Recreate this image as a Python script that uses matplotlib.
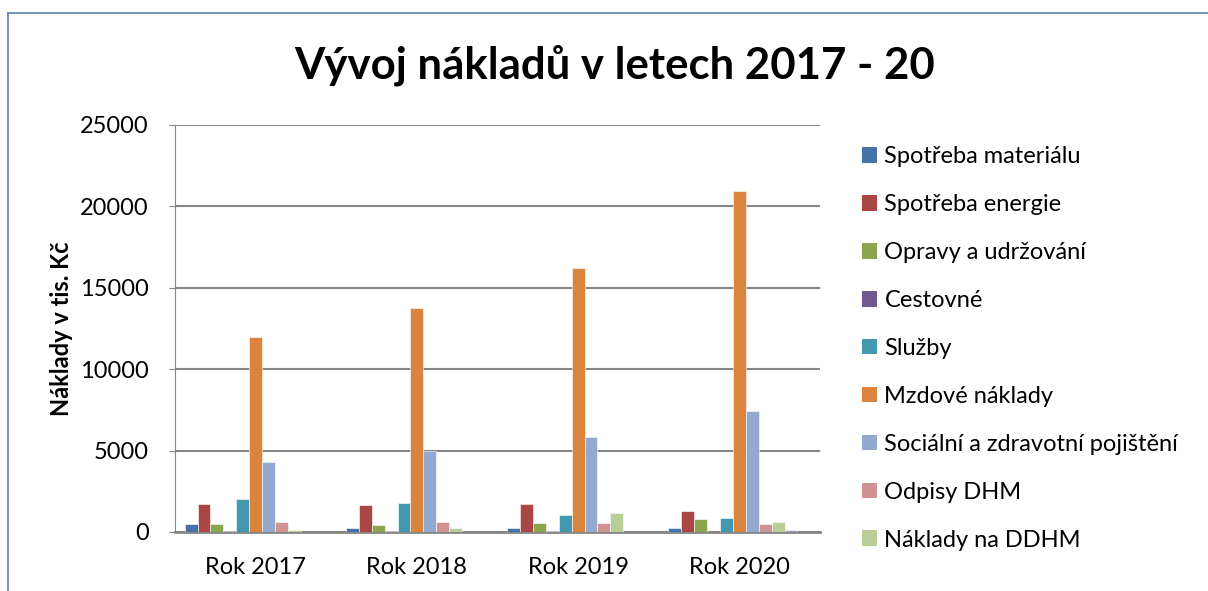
import matplotlib
matplotlib.use('Agg')

import matplotlib.pyplot as plt
import numpy as np
from matplotlib.lines import Line2D
from matplotlib.patches import Patch

plt.rcParams['font.family'] = ['Lato', 'DejaVu Sans']

# categories and series (tis. Kč)
roky = ["Rok 2017", "Rok 2018", "Rok 2019", "Rok 2020"]
spotreba_materialu = [480, 250, 250, 270]
spotreba_energie = [1750, 1680, 1740, 1320]
opravy_udrzovani = [520, 400, 560, 780]
cestovne = [60, 50, 50, 30]
sluzby = [2000, 1760, 1030, 830]
mzdove_naklady = [12000, 13770, 16220, 20920]
socialni_pojisteni = [4330, 5000, 5840, 7460]
odpisy_dhm = [640, 620, 540, 520]
naklady_ddhm = [140, 270, 1180, 620]
ostatni_1 = [0, 0, 0, 120]
ostatni_2 = [0, 0, 20, 0]

series = [spotreba_materialu, spotreba_energie, opravy_udrzovani, cestovne, sluzby,
          mzdove_naklady, socialni_pojisteni, odpisy_dhm, naklady_ddhm, ostatni_1, ostatni_2]
labels = ["Spotřeba materiálu", "Spotřeba energie", "Opravy a udržování", "Cestovné",
          "Služby", "Mzdové náklady", "Sociální a zdravotní pojištění", "Odpisy DHM",
          "Náklady na DDHM", None, None]
colors = ["#4572A7", "#AA4643", "#89A54E", "#71588F", "#4198AF", "#DB843D",
          "#93A9CF", "#D19392", "#B9CD96", "#A99BBD", "#DCE6F0"]

fig = plt.figure(figsize=(12.08, 5.91), dpi=100)
ax = fig.add_axes([175/1208, 1-532/591, 645/1208, 407/591])

n = len(series)
w = 1.0 / (n + 1.5)
x = np.arange(len(roky))
for i, vals in enumerate(series):
    off = (i - (n - 1) / 2) * w
    ax.bar(x + off, vals, w, color=colors[i], edgecolor='white', linewidth=0.4, zorder=3)

ax.set_xlim(-0.5, len(roky) - 0.5)
ax.set_ylim(0, 25000)
ax.set_yticks(range(0, 25001, 5000))
ax.set_xticks(x)
ax.set_xticklabels(roky, fontsize=17)
ax.tick_params(axis='x', length=0, pad=18)
ax.tick_params(axis='y', labelsize=17, length=4, color='#868686', pad=15)
ax.grid(axis='y', color='#868686', linewidth=1.5, zorder=0)
for s in ['top', 'right']:
    ax.spines[s].set_visible(False)
ax.spines['left'].set_color('#868686')
ax.spines['bottom'].set_color('#868686')
ax.spines['bottom'].set_linewidth(2)
ax.set_ylabel("Náklady v tis. Kč", fontsize=17, fontweight='bold', labelpad=5)

fig.text(615/1208, 1-65/591, "Vývoj nákladů v letech 2017 - 20", fontsize=31.5,
         fontweight='bold', ha='center', va='center')

handles = [Patch(facecolor=colors[i], label=labels[i]) for i in range(9)]
fig.legend(handles=handles, loc='upper left', bbox_to_anchor=(841/1208, 1-125/591),
           frameon=False, fontsize=17, handlelength=0.64, handleheight=0.64,
           handletextpad=0.3, labelspacing=1.14)

# outer chart border (cropped)
fig.add_artist(Line2D([8/1208, 8/1208], [0, 1-13/591], color='#5B7FB5', linewidth=1.2))
fig.add_artist(Line2D([8/1208, 1], [1-13/591, 1-13/591], color='#5B7FB5', linewidth=1.2))

fig.savefig('out.png', dpi=100)
